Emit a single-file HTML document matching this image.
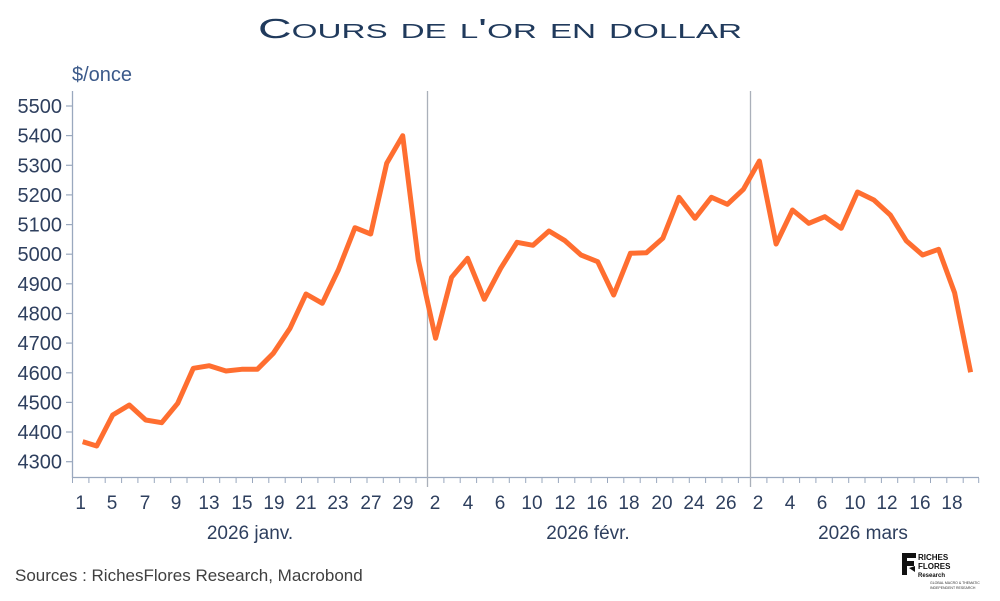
<!DOCTYPE html>
<html><head><meta charset="utf-8"><style>html,body{margin:0;padding:0;background:#fff}svg{display:block}</style></head>
<body>
<svg width="1000" height="601" viewBox="0 0 1000 601" xmlns="http://www.w3.org/2000/svg" font-family="Liberation Sans, sans-serif">
<rect width="1000" height="601" fill="#fff"/>
<text x="500" y="38" text-anchor="middle" font-size="28" fill="#203a5c" style="font-variant:small-caps" textLength="484" lengthAdjust="spacingAndGlyphs">Cours de l'or en dollar</text>
<text x="72" y="81" font-size="20" fill="#3c5a8a">$/once</text>
<g stroke="#9aa8be" stroke-width="1.3">
<line x1="72.5" y1="91" x2="72.5" y2="478"/>
<line x1="72" y1="477.5" x2="979" y2="477.5"/>
</g>
<g stroke="#9aa8be" stroke-width="1.2">
<line x1="66" y1="106" x2="72" y2="106"/><line x1="66" y1="135.6" x2="72" y2="135.6"/><line x1="66" y1="165.3" x2="72" y2="165.3"/><line x1="66" y1="194.9" x2="72" y2="194.9"/><line x1="66" y1="224.6" x2="72" y2="224.6"/><line x1="66" y1="254.2" x2="72" y2="254.2"/><line x1="66" y1="283.8" x2="72" y2="283.8"/><line x1="66" y1="313.5" x2="72" y2="313.5"/><line x1="66" y1="343.1" x2="72" y2="343.1"/><line x1="66" y1="372.8" x2="72" y2="372.8"/><line x1="66" y1="402.4" x2="72" y2="402.4"/><line x1="66" y1="432" x2="72" y2="432"/><line x1="66" y1="461.7" x2="72" y2="461.7"/>
</g>
<g font-size="20" fill="#2e3f5e" text-anchor="end">
<text x="62" y="113">5500</text><text x="62" y="142.6">5400</text><text x="62" y="172.3">5300</text><text x="62" y="201.9">5200</text><text x="62" y="231.6">5100</text><text x="62" y="261.2">5000</text><text x="62" y="290.8">4900</text><text x="62" y="320.5">4800</text><text x="62" y="350.1">4700</text><text x="62" y="379.8">4600</text><text x="62" y="409.4">4500</text><text x="62" y="439">4400</text><text x="62" y="468.7">4300</text>
</g>
<g stroke="#aab0ba" stroke-width="1.3">
<line x1="427.5" y1="91" x2="427.5" y2="487"/>
<line x1="750.5" y1="91" x2="750.5" y2="487"/>
</g>
<polyline fill="none" stroke="#ff6e30" stroke-width="5" stroke-linejoin="round" points="82.7,441.7 96.7,446 112.7,415 129.3,405 145.7,420 161.7,422.7 177.7,403.3 193.3,368.3 209.3,365.7 226,371 241.7,369.3 257.3,369.3 273.3,353.3 290,328.3 306,294 322.3,303.3 338.3,270 355,227.7 370.7,234 386.7,163.3 402.7,135.7 418.3,260 435.6,338.3 451.6,277.3 467.6,258.3 484.3,299.3 500.7,268.3 517,242.3 533,245.3 549,231 565,240.7 581,255 597.7,261.7 613.7,295 630.4,253.3 646.4,252.7 662.8,238.3 679,197.3 695,218.3 711.4,197.3 727.4,204.3 743.4,189.3 759.4,161 776.1,244 792.5,210 808.8,223.3 824.8,216.7 841.2,228.3 857.5,192 873.9,200 890.3,215 906.2,240.7 922.6,255 938.6,249.3 954.6,292.7 970.6,372.3"/>
<g font-size="19" fill="#2e3f5e" text-anchor="middle">
<text x="80.7" y="509">1</text><text x="112" y="509">5</text><text x="145" y="509">7</text><text x="176" y="509">9</text><text x="209" y="509">13</text><text x="242" y="509">15</text><text x="274" y="509">19</text><text x="306" y="509">21</text><text x="338" y="509">23</text><text x="371" y="509">27</text><text x="403" y="509">29</text><text x="435" y="509">2</text><text x="468" y="509">4</text><text x="500" y="509">6</text><text x="532" y="509">10</text><text x="565" y="509">12</text><text x="597" y="509">16</text><text x="629" y="509">18</text><text x="662" y="509">20</text><text x="694" y="509">24</text><text x="726" y="509">26</text><text x="758" y="509">2</text><text x="790" y="509">4</text><text x="822" y="509">6</text><text x="855" y="509">10</text><text x="887" y="509">12</text><text x="920" y="509">16</text><text x="952" y="509">18</text>
<text x="250" y="539">2026 janv.</text><text x="588" y="539">2026 févr.</text><text x="863" y="539">2026 mars</text>
</g>
<text x="15" y="581" font-size="17" fill="#404040">Sources : RichesFlores Research, Macrobond</text>
<g>
<path d="M902 553 h14 v5 h-9 v3 h7 v5 h-7 v9 h-5 z" fill="#111"/>
<path d="M909 568 l6 -2 v6 z" fill="#111"/>
<text x="918" y="560" font-size="8" font-weight="bold" fill="#111">RICHES</text>
<text x="918" y="569" font-size="8" font-weight="bold" fill="#111">FLORES</text>
<text x="918" y="577" font-size="6" font-weight="bold" fill="#111">Research</text>
<text x="930" y="584" font-size="3.5" fill="#333">GLOBAL MACRO &amp; THEMATIC</text>
<text x="930" y="589" font-size="3.5" fill="#333">INDEPENDENT RESEARCH</text>
</g>
<g stroke="#9aa8be" stroke-width="1">
<path d="M72.5 478v5M88.9 478v5M105.2 478v5M121.6 478v5M137.9 478v5M154.3 478v5M170.7 478v5M187 478v5M203.4 478v5M219.7 478v5M236.1 478v5M252.5 478v5M268.8 478v5M285.2 478v5M301.5 478v5M317.9 478v5M334.3 478v5M350.6 478v5M367 478v5M383.3 478v5M399.7 478v5M416 478v5M443.9 478v5M460.2 478v5M476.6 478v5M493 478v5M509.3 478v5M525.7 478v5M542 478v5M558.4 478v5M574.8 478v5M591.1 478v5M607.5 478v5M623.8 478v5M640.2 478v5M656.6 478v5M672.9 478v5M689.3 478v5M705.6 478v5M722 478v5M738.4 478v5M766.9 478v5M783.2 478v5M799.6 478v5M815.9 478v5M832.3 478v5M848.7 478v5M865 478v5M881.4 478v5M897.7 478v5M914.1 478v5M930.5 478v5M946.8 478v5M963.2 478v5M978.7 478v5"/>
</g>
</svg>
</body></html>
